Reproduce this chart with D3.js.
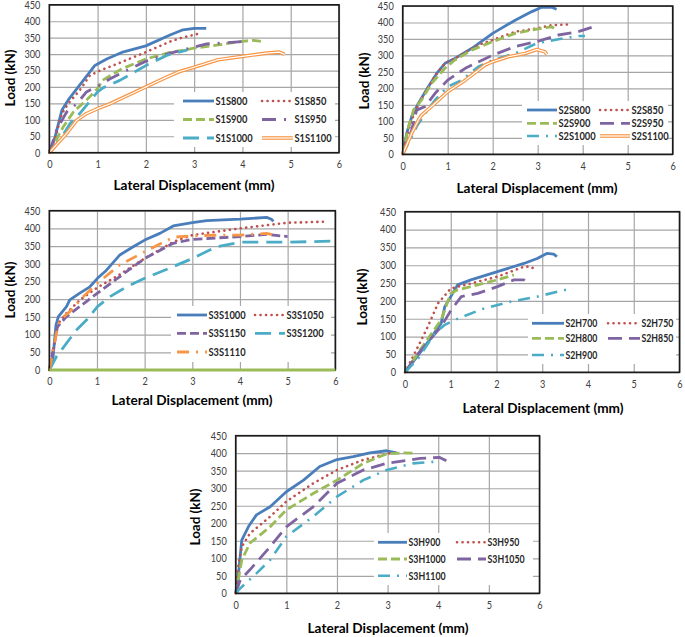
<!DOCTYPE html>
<html><head><meta charset="utf-8">
<script src="https://cdn.jsdelivr.net/npm/d3@7"></script>
<style>body{margin:0;background:#fff}svg{display:block}</style>
</head><body><svg id="c" width="685" height="637"></svg>
<script>
const xTicks=[0,1,2,3,4,5,6];
const yTicks=[0,50,100,150,200,250,300,350,400,450];
const xTitle="Lateral Displacement (mm)";
const yTitle="Load (kN)";

// Panel 1
const S1S800=[[0,0],[0.12,48],[0.26,129],[0.39,160],[0.6,200],[0.81,240],[0.94,265],[1.0,270],[1.2,286],[1.5,305],[2.0,325],[2.5,358],[2.77,374],[3.0,378],[3.25,378]];
const S1S850=[[0,0],[0.12,43],[0.26,119],[0.39,149],[0.63,190],[0.84,235],[1.05,250],[1.4,270],[2.0,306],[2.5,338],[2.75,350],[3.15,364]];
const S1S900=[[0,0],[0.29,79],[0.5,124],[0.77,160],[1.0,195],[1.1,220],[1.5,255],[2.0,285],[2.5,305],[3.0,318],[3.5,328],[4.0,339],[4.22,342],[4.4,338]];
const S1S950=[[0,0],[0.15,69],[0.36,124],[0.57,149],[0.77,185],[1.0,202],[1.26,225],[1.6,250],[2.0,278],[2.5,303],[3.0,321],[3.26,331],[3.5,333],[4.0,338]];
const S1S1000=[[0,0],[0.22,38],[0.43,89],[0.63,119],[0.8,149],[1.0,185],[1.12,198],[1.46,220],[2.0,265],[2.43,296],[2.77,309],[2.86,313]];
const S1S1100=[[0,0],[0.36,59],[0.57,99],[0.77,119],[1.0,134],[1.26,149],[2.0,200],[2.43,230],[2.7,247],[3.0,260],[3.5,283],[4.0,293],[4.5,303],[4.77,306],[4.87,299]];
// Panel 2
const S2S800=[[0,0],[0.09,64],[0.2,114],[0.35,155],[0.57,205],[0.76,246],[0.94,276],[1.16,291],[1.53,321],[2.0,367],[2.5,407],[2.87,433],[3.09,446],[3.31,446],[3.42,440]];
const S2S850=[[0,0],[0.09,54],[0.2,104],[0.38,160],[0.57,205],[0.76,246],[0.94,276],[1.16,291],[1.68,332],[2.0,347],[2.5,372],[2.98,382],[3.31,392],[3.72,394]];
const S2S900=[[0,0],[0.13,84],[0.24,134],[0.42,165],[0.64,215],[0.94,261],[1.16,286],[1.53,316],[2.0,342],[2.5,367],[2.98,380],[3.31,387],[3.42,377]];
const S2S950=[[0,0],[0.2,74],[0.31,134],[0.5,145],[0.72,185],[1.0,225],[1.39,261],[2.0,301],[2.5,327],[2.98,342],[3.46,362],[3.9,372],[4.2,385]];
const S2S1000=[[0,0],[0.16,43],[0.31,84],[0.5,124],[0.72,165],[1.0,205],[1.31,225],[1.68,266],[2.0,286],[2.5,306],[2.98,337],[3.46,349],[3.9,359],[4.05,359]];
const S2S1100=[[0,0],[0.2,64],[0.35,104],[0.42,119],[0.64,145],[1.0,190],[1.39,225],[1.83,271],[2.0,281],[2.35,296],[2.72,306],[2.98,318],[3.16,311],[3.2,303]];
// Panel 3
const S3S1000=[[0,0],[0.08,38],[0.14,127],[0.19,151],[0.36,179],[0.43,198],[0.64,217],[0.85,235],[1.01,259],[1.2,282],[1.48,325],[1.76,348],[2.0,367],[2.32,386],[2.6,407],[3.0,416],[3.3,422],[4.0,426],[4.56,431],[4.66,426],[4.7,420]];
const S3S1050=[[0,0],[0.19,132],[0.36,160],[0.64,198],[1.01,233],[1.41,264],[2.0,315],[2.6,362],[3.0,381],[4.0,400],[5.0,416],[5.76,419]];
const S3S1150=[[0,0],[0.12,85],[0.17,122],[0.36,151],[1.01,217],[1.48,264],[2.0,315],[2.6,358],[3.0,369],[4.0,377],[4.56,383],[5.0,377]];
const S3S1200=[[0,0],[0.15,38],[0.57,113],[0.78,141],[1.01,179],[1.27,207],[1.62,235],[2.0,259],[2.6,292],[3.0,315],[3.5,348],[4.0,361],[5.0,361],[5.96,364]];
const S3S1110=[[0,0],[0.15,104],[0.22,141],[0.43,165],[0.71,207],[1.01,245],[1.48,297],[2.0,334],[2.6,375],[3.0,379],[3.5,381],[4.0,381],[4.56,386],[4.77,380]];
const S3Base=[[0,0],[6,0]];
// Panel 4
const S2H700=[[0,0],[0.43,72],[0.79,137],[0.87,184],[1.0,212],[1.15,245],[1.44,259],[2.02,282],[2.6,305],[2.89,319],[3.1,333],[3.25,331],[3.32,324]];
const S2H750=[[0,0],[0.25,63],[0.5,128],[0.72,193],[1.0,235],[1.44,249],[2.02,268],[2.6,296],[2.74,296],[2.81,291]];
const S2H800=[[0,0],[0.43,81],[0.79,147],[1.0,221],[1.15,231],[1.59,245],[2.02,259],[2.38,273]];
const S2H850=[[0,0],[0.29,53],[0.79,128],[1.01,175],[1.23,212],[1.59,221],[2.02,240],[2.38,259],[2.6,259],[2.67,254]];
const S2H900=[[0,0],[0.29,39],[0.65,109],[0.87,133],[1.01,142],[1.26,156],[1.73,179],[2.31,198],[2.89,212],[3.54,232]];
// Panel 5
const S3H900=[[0,0],[0.05,48],[0.12,152],[0.25,190],[0.41,224],[0.68,247],[1.0,290],[1.34,323],[1.66,362],[2.0,382],[2.32,390],[2.65,401],[2.98,407],[3.18,401]];
const S3H950=[[0,0],[0.05,76],[0.12,133],[0.28,171],[0.68,219],[1.0,262],[1.53,314],[2.0,352],[2.52,381],[3.05,400],[3.24,401]];
const S3H1000=[[0,0],[0.05,38],[0.12,95],[0.28,143],[0.68,190],[1.0,238],[1.53,285],[2.0,323],[2.52,371],[2.98,398],[3.31,401],[3.57,400]];
const S3H1050=[[0,0],[0.09,38],[0.28,67],[0.68,133],[1.0,190],[1.53,247],[2.0,314],[2.52,352],[2.98,371],[3.64,385],[4.03,388],[4.2,376]];
const S3H1100=[[0,0],[0.09,14],[0.41,57],[0.68,95],[1.0,162],[1.53,219],[2.0,276],[2.52,323],[2.98,352],[3.5,371],[3.97,376]];

const C={blue:'#4a7ebb',red:'#c0504d',green:'#9bbb59',purple:'#7f64a2',cyan:'#4bacc6',orange:'#f79646'};
const STY={
  solid:{c:C.blue,w:2.8,dash:null},
  redDot:{c:C.red,w:2.6,dash:'0.1,5.4',cap:'round'},
  greenDash:{c:C.green,w:2.8,dash:'9,4'},
  purpleLDD:{c:C.purple,w:2.8,dash:'14,8,2,8'},
  purpleLD:{c:C.purple,w:2.8,dash:'14,7'},
  purpleDash:{c:C.purple,w:2.8,dash:'9,4'},
  cyanLD:{c:C.cyan,w:2.8,dash:'16,8'},
  cyanDD:{c:C.cyan,w:2.6,dash:'12,7,2,7'},
  orangeDouble:{c:C.orange,w:3.6,double:true},
  orangeDD:{c:C.orange,w:2.8,dash:'12,7,2,7'},
  base:{c:C.green,w:3,dash:null}
};

const panels=[
 {x0:49.3,x1:339,y0:152.7,y1:4.8, box:[174,92,335,147], cols:[183,262], len:31, rows:[101,119.5,138],
  xt:[194,190], yt:[10,78],
  series:[['S1S800',S1S800,'solid'],['S1S850',S1S850,'redDot'],['S1S900',S1S900,'greenDash'],['S1S950',S1S950,'purpleLDD'],['S1S1000',S1S1000,'cyanLD'],['S1S1100',S1S1100,'orangeDouble']]},
 {x0:402.7,x1:672.7,y0:154.3,y1:6, box:[522,101,668,145], cols:[527,600], len:30, rows:[110,123.3,136],
  xt:[537,193], yt:[364,81],
  series:[['S2S800',S2S800,'solid'],['S2S850',S2S850,'redDot'],['S2S900',S2S900,'greenDash'],['S2S950',S2S950,'purpleLD'],['S2S1000',S2S1000,'cyanDD'],['S2S1100',S2S1100,'orangeDouble']]},
 {x0:49.3,x1:335.3,y0:370,y1:210.7, box:[171,306,331,362], cols:[177,255], len:30, rows:[315,333.3,352],
  xt:[192,405], yt:[10,290],
  series:[['S3S1000',S3S1000,'solid'],['S3S1050',S3S1050,'redDot'],['S3S1150',S3S1150,'purpleDash'],['S3S1200',S3S1200,'cyanLD'],['S3S1110',S3S1110,'orangeDD'],[null,S3Base,'base']]},
 {x0:405,x1:679.5,y0:372.3,y1:211.7, box:[528,314,676,364], cols:[532,608], len:32, rows:[323.3,338.3,355],
  xt:[543,413], yt:[362,297],
  series:[['S2H700',S2H700,'solid'],['S2H750',S2H750,'redDot'],['S2H800',S2H800,'greenDash'],['S2H850',S2H850,'purpleLD'],['S2H900',S2H900,'cyanDD']]},
 {x0:235.7,x1:539.5,y0:593.3,y1:435.7, box:[374,533,533,585], cols:[378,457], len:29, rows:[542.3,559,575.7],
  xt:[388,633], yt:[195,517],
  series:[['S3H900',S3H900,'solid'],['S3H950',S3H950,'redDot'],['S3H1000',S3H1000,'greenDash'],['S3H1050',S3H1050,'purpleLD'],['S3H1100',S3H1100,'cyanDD']]}
];

const svg=d3.select('#c');
const FONT='Lato, "Open Sans", sans-serif';

function strokeIt(sel,st,white){
  if(white){ sel.attr('stroke','#fff').attr('stroke-width',1.2).attr('fill','none'); return sel;}
  sel.attr('stroke',st.c).attr('stroke-width',st.w).attr('fill','none')
     .attr('stroke-linejoin','round')
     .attr('stroke-linecap',st.cap||'butt');
  if(st.dash) sel.attr('stroke-dasharray',st.dash);
  return sel;
}
// condense text horizontally to mimic the narrow original face
function condense(sel,perChar){
  sel.each(function(){
    const n=this.textContent.length;
    d3.select(this).attr('textLength',perChar*n).attr('lengthAdjust','spacingAndGlyphs');
  });
}

panels.forEach(p=>{
  const g=svg.append('g');
  const x=d3.scaleLinear().domain([0,6]).range([p.x0,p.x1]);
  const y=d3.scaleLinear().domain([0,450]).range([p.y0,p.y1]);
  const W=p.x1-p.x0, H=p.y0-p.y1;
  const ay=g.append('g').attr('transform',`translate(${p.x0},0)`)
    .call(d3.axisLeft(y).tickValues(yTicks).tickSize(-W).tickPadding(9).tickFormat(d3.format('d')));
  const ax=g.append('g').attr('transform',`translate(0,${p.y0})`)
    .call(d3.axisBottom(x).tickValues(xTicks).tickSize(-H).tickPadding(8).tickFormat(d3.format('d')));
  [ax,ay].forEach(a=>{
    a.select('.domain').remove();
    a.selectAll('line').attr('stroke','#a6a6a6').attr('stroke-width',1.2);
    a.selectAll('text').attr('fill','#404040').style('font-family',FONT).style('font-size','10.5px');
    condense(a.selectAll('text'),5.3);
  });
  const line=d3.line().x(d=>x(d[0])).y(d=>y(d[1]));
  p.series.filter(s=>s[0]!==null).forEach(([name,data,sk])=>{
    const st=STY[sk];
    strokeIt(g.append('path').attr('d',line(data)),st);
    if(st.double) strokeIt(g.append('path').attr('d',line(data)),st,true);
  });
  g.append('rect').attr('x',p.x0).attr('y',p.y1).attr('width',W).attr('height',H)
    .attr('fill','none').attr('stroke','#1a1a1a').attr('stroke-width',1.6);
  p.series.filter(s=>s[0]===null).forEach(([n,data,sk])=>{
    strokeIt(g.append('path').attr('d',line(data)),STY[sk]);
  });
  const b=p.box;
  g.append('rect').attr('x',b[0]).attr('y',b[1]).attr('width',b[2]-b[0]).attr('height',b[3]-b[1]).attr('fill','#fff');
  p.series.filter(s=>s[0]!==null).forEach(([name,data,sk],i)=>{
    const st=STY[sk];
    const lx=p.cols[i%2], ly=p.rows[Math.floor(i/2)];
    const lg=d3.line()([[lx,ly],[lx+p.len,ly]]);
    strokeIt(g.append('path').attr('d',lg),st);
    if(st.double) strokeIt(g.append('path').attr('d',lg),st,true);
    const t=g.append('text').attr('x',lx+p.len+1.5).attr('y',ly).attr('dy','0.36em')
      .attr('fill','#262626').style('font-family',FONT).style('font-size','11px').style('font-weight','700')
      .text(name);
    condense(t,5.3);
  });
  const xtT=g.append('text').attr('x',p.xt[0]).attr('y',p.xt[1]).attr('text-anchor','middle')
    .attr('fill','#000').style('font-family',FONT).style('font-size','13.5px').style('font-weight','700').text(xTitle);
  xtT.attr('textLength',161).attr('lengthAdjust','spacingAndGlyphs');
  const ytT=g.append('text').attr('transform',`translate(${p.yt[0]},${p.yt[1]}) rotate(-90)`).attr('text-anchor','middle')
    .attr('dy','0.35em').attr('fill','#000').style('font-family',FONT).style('font-size','13.5px').style('font-weight','700').text(yTitle);
  ytT.attr('textLength',57).attr('lengthAdjust','spacingAndGlyphs');
});
</script></body></html>
